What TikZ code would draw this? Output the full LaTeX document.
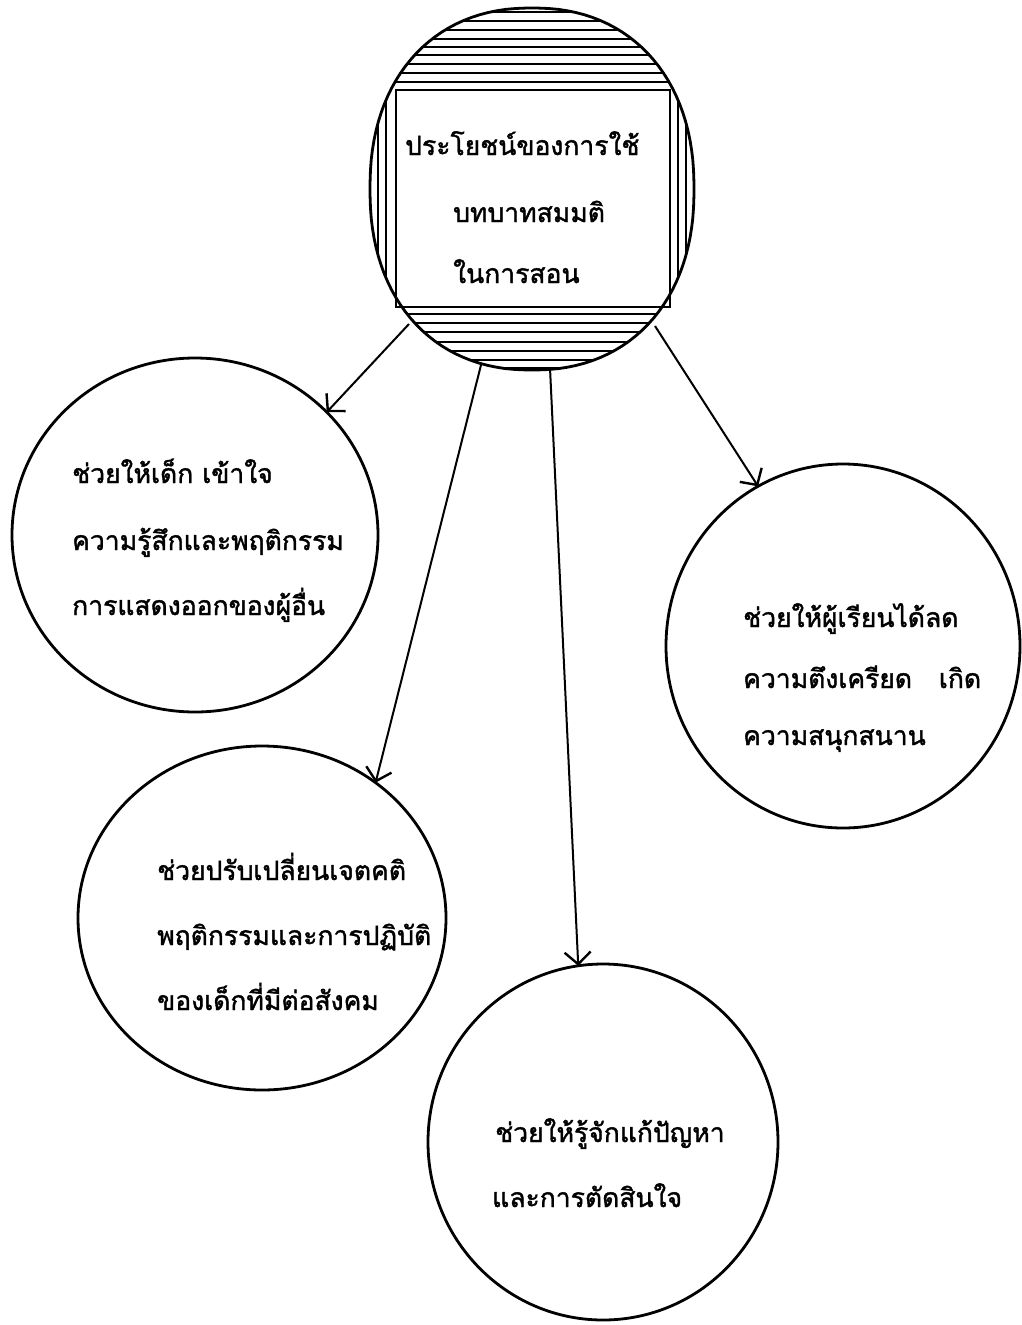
\documentclass[tikz,border=0pt]{standalone}
\usepackage{fontspec}
\newfontface\thaifont[Script=Thai,FakeBold=1.5]{Loma}
\usetikzlibrary{shapes.geometric,arrows.meta}
\tikzset{
  bubble/.style={draw, ellipse, line width=2.8pt, inner sep=0pt, outer sep=0pt},
  txt/.style={anchor=base west, inner sep=0pt, font=\thaifont\fontsize{26.5}{32}\selectfont},
  arr/.style={line width=2pt, -{Straight Barb[length=12pt,width=26pt,line width=2.4pt]}},
  hatch/.style={line width=2pt}
}
\newcommand{\topoutline}{plot[domain=1.5:361.5, samples=121, variable=\t]
  ({532+162*sign(cos(\t))*abs(cos(\t))^(0.9)}, {189+181*sign(sin(\t))*abs(sin(\t))^(0.9)}) -- cycle}
\begin{document}
\begin{tikzpicture}[x=1pt,y=-1pt]
\useasboundingbox (0,0) rectangle (1021,1325);
% top circle (hatched, with framed title)
\begin{scope}
  \clip \topoutline;
  \foreach \yy in {12,21,30,39,47,55,64,73,82} \draw[hatch] (360,\yy) -- (710,\yy);
  \foreach \yy in {314,323,332,342,351,360,368} \draw[hatch] (360,\yy) -- (710,\yy);
  \foreach \xx in {378,386} \draw[hatch] (\xx,90) -- (\xx,307);
  \foreach \xx in {678,686} \draw[hatch] (\xx,90) -- (\xx,307);
\end{scope}
\draw[line width=2.8pt] \topoutline;
\draw[line width=2.4pt] (396,90) rectangle (670,307);
\node[txt] (t1) at (405,155) {ประโยชน์ของการใช้};
\node[txt] (t2) at (453,222) {บทบาทสมมติ};
\node[txt] (t3) at (453,283) {ในการสอน};
\coordinate (s1) at (409,324);
\coordinate (s2) at (481,365);
\coordinate (s3) at (550,368);
\coordinate (s4) at (655,326);

% circle A (left)
\node[bubble, minimum width=366pt, minimum height=354pt] (A) at (195,535) {};
\node[txt] (a1) at (72,483) {ช่วยให้เด็ก เข้าใจ};
\node[txt] (a2) at (72,550) {ความรู้สึกและพฤติกรรม};
\node[txt] (a3) at (72,615) {การแสดงออกของผู้อื่น};

% circle B (right)
\node[bubble, minimum width=354pt, minimum height=364pt] (B) at (843,646) {};
\node[txt] (b1) at (743,627) {ช่วยให้ผู้เรียนได้ลด};
\node[txt] (b2) at (743,688) {ความตึงเครียด \ \ เกิด};
\node[txt] (b3) at (743,745) {ความสนุกสนาน};

% circle C (lower left)
\node[bubble, minimum width=368pt, minimum height=344pt] (C) at (262,918) {};
\node[txt] (c1) at (157,880) {ช่วยปรับเปลี่ยนเจตคติ};
\node[txt] (c2) at (157,945) {พฤติกรรมและการปฏิบัติ};
\node[txt] (c3) at (157,1010) {ของเด็กที่มีต่อสังคม};

% circle D (bottom)
\node[bubble, minimum width=350pt, minimum height=356pt] (D) at (603,1142) {};
\node[txt] (d1) at (495,1142) {ช่วยให้รู้จักแก้ปัญหา};
\node[txt] (d2) at (492,1207) {และการตัดสินใจ};

% arrows
\draw[arr] (s1) -- (A.43.9);
\draw[arr] (s2) -- (C.50.8);
\draw[arr] (s3) -- (D.98.5);
\draw[arr] (s4) -- (B.118);
\end{tikzpicture}
\end{document}
